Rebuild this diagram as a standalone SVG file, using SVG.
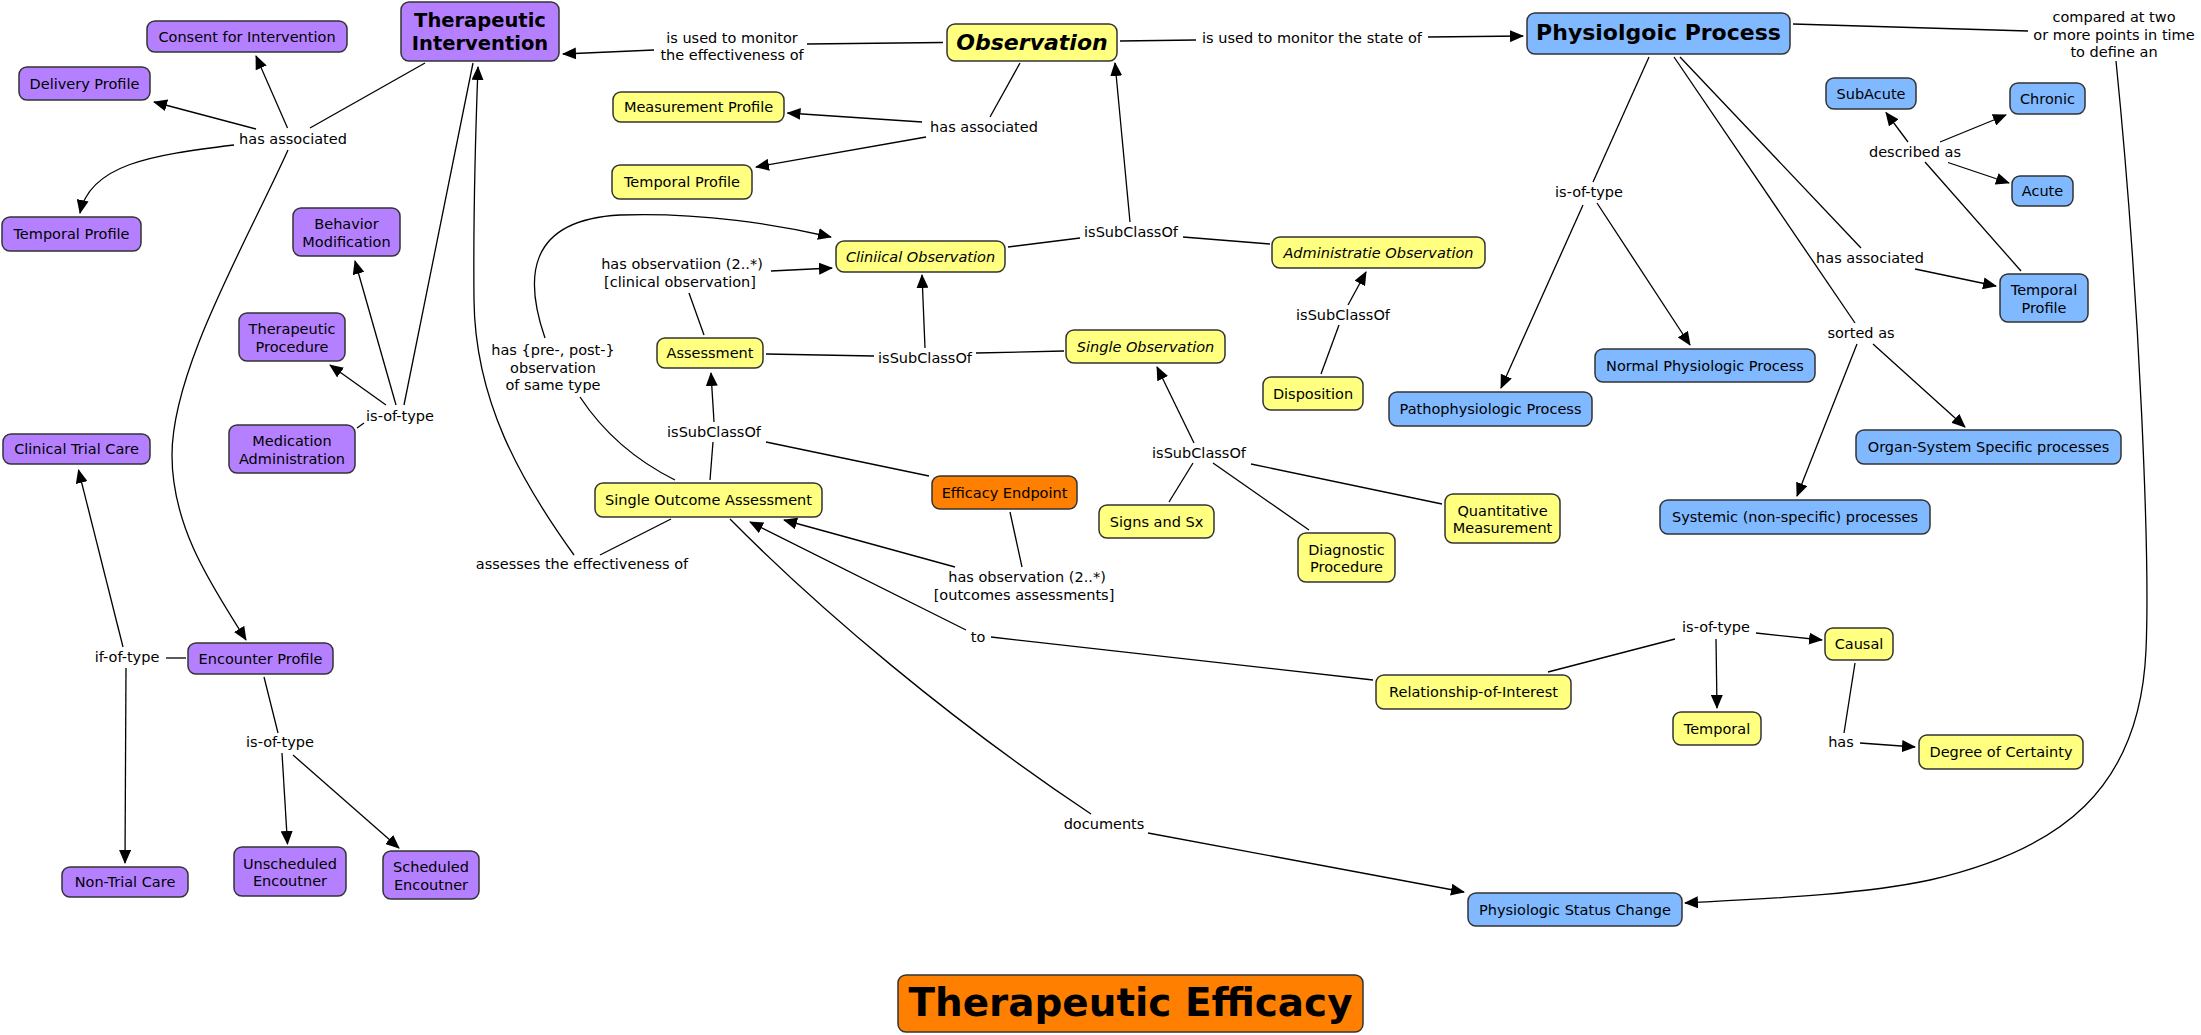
<svg xmlns="http://www.w3.org/2000/svg" width="2201" height="1035" viewBox="0 0 2201 1035">
<style>
text{font-family:"DejaVu Sans",Verdana,sans-serif;font-size:14.5px;text-anchor:middle;fill:#000}
.n rect{stroke:#333;stroke-width:1.5}
.p rect{fill:#B580FF}.y rect{fill:#FFFF80}.b rect{fill:#80B9FF}.o rect{fill:#FF8000}
.it{font-style:italic}
.bt{font-weight:bold;font-size:19.5px}
.bi{font-weight:bold;font-style:italic;font-size:22px}
.bb{font-weight:bold;font-size:22px}
#connectors path{stroke:#000;stroke-width:1.3;fill:none}
#connectors path.a{marker-end:url(#ah)}
</style>
<defs>
<marker id="ah" viewBox="0 0 14 12" refX="13" refY="6" markerWidth="14" markerHeight="12" markerUnits="userSpaceOnUse" orient="auto"><path d="M0,0 L14,6 L0,12 z" fill="#000"/></marker>
</defs>
<rect width="2201" height="1035" fill="#fff"/>
<g id="connectors">
<path d="M425,63 L310,128"/>
<path class="a" d="M287.5,128 L256,56"/>
<path class="a" d="M256,129 L154,102"/>
<path class="a" d="M234,145 C150,155 90,165 80,213"/>
<path class="a" d="M288,150 C245,245 172,370 172,455 C172,530 215,590 246,640"/>
<path d="M404,405 L473,63"/>
<path class="a" d="M396,405 L355,261"/>
<path class="a" d="M386,405 L330,365"/>
<path d="M364,423 L357,428"/>
<path d="M943,42.5 L807,44"/>
<path class="a" d="M654,50 L563,54"/>
<path d="M1020,63 L990,117"/>
<path class="a" d="M922,122 L787.5,113"/>
<path class="a" d="M926,137 L756,167"/>
<path d="M1120,41 L1196,40"/>
<path class="a" d="M1428,37 L1523,36"/>
<path class="a" d="M1130,222 L1115,63"/>
<path d="M1008,247 L1080,238"/>
<path d="M1270,244 L1183,237"/>
<path d="M704,335 L689,293"/>
<path class="a" d="M771,271 L832,268"/>
<path d="M675,480 Q615,450 580,397"/>
<path class="a" d="M545,338 C525,280 525,220 620,215 C700,212 780,225 831,237"/>
<path d="M766,354 L874,356"/>
<path d="M1064,351 L976,353"/>
<path class="a" d="M925,348 L922,275"/>
<path d="M710,480 L713,442"/>
<path class="a" d="M714,422 L711,373"/>
<path d="M929,476 L766,442"/>
<path d="M1321,374 L1339,325"/>
<path class="a" d="M1348,305 L1366,272"/>
<path class="a" d="M1194,443 L1157,367"/>
<path d="M1169,502 L1193,463"/>
<path d="M1309,530 L1213,463"/>
<path d="M1442,504 L1251,464"/>
<path d="M671,519 L600,555"/>
<path class="a" d="M574,555 C520,480 475,400 474,300 C473,200 476,120 478,67"/>
<path class="a" d="M955,567 L784,520"/>
<path d="M1010,512 L1022,567"/>
<path class="a" d="M966,630 L750,522"/>
<path d="M1373,680 L991,637"/>
<path d="M730,519 C820,610 950,720 1091,814"/>
<path class="a" d="M1148,833 L1464,892"/>
<path d="M1548,672 L1675,639"/>
<path class="a" d="M1756,633 L1822,640"/>
<path class="a" d="M1716,639 L1717,708"/>
<path d="M1855,663 L1844,733"/>
<path class="a" d="M1860,743 L1915,747"/>
<path d="M1649,57 L1593,182"/>
<path class="a" d="M1583,205 L1501,388"/>
<path class="a" d="M1597,203 L1690,345"/>
<path d="M1680,57 L1861,248"/>
<path class="a" d="M1915,269 L1996,286"/>
<path d="M1674,57 L1855,323"/>
<path class="a" d="M1857,344 L1797,496"/>
<path class="a" d="M1873,344 L1965,427"/>
<path d="M2021,271 L1925,162"/>
<path class="a" d="M1908,142 L1886,112.5"/>
<path class="a" d="M1940,142 L2006,115"/>
<path class="a" d="M1948,162.5 L2009,183"/>
<path d="M1793,24 L2028,31"/>
<path class="a" d="M2116,61 C2140,300 2150,560 2146,650 C2140,790 2060,850 1930,880 C1860,895 1760,899 1685,903"/>
<path d="M186,658 L166,658"/>
<path class="a" d="M123,647 L78.5,470"/>
<path class="a" d="M126,668 L125,863"/>
<path d="M264,677 L278,733"/>
<path class="a" d="M282,753 L287.5,844"/>
<path class="a" d="M293,755 L399,848"/>
<text x="293" y="144">has associated</text>
<text x="400" y="421">is-of-type</text>
<text x="732" y="43">is used to monitor</text>
<text x="732" y="60">the effectiveness of</text>
<text x="984" y="132">has associated</text>
<text x="1312" y="43">is used to monitor the state of</text>
<text x="1131" y="237">isSubClassOf</text>
<text x="682" y="269">has observatiion (2..*)</text>
<text x="680" y="287">[clinical observation]</text>
<text x="553" y="355">has {pre-, post-}</text>
<text x="553" y="372.5">observation</text>
<text x="553" y="390">of same type</text>
<text x="925" y="363">isSubClassOf</text>
<text x="714" y="437">isSubClassOf</text>
<text x="1343" y="320">isSubClassOf</text>
<text x="1199" y="458">isSubClassOf</text>
<text x="582" y="569">assesses the effectiveness of</text>
<text x="1027" y="582">has observation (2..*)</text>
<text x="1024" y="600">[outcomes assessments]</text>
<text x="978" y="642">to</text>
<text x="1104" y="829">documents</text>
<text x="1716" y="632">is-of-type</text>
<text x="1841" y="747">has</text>
<text x="1589" y="197">is-of-type</text>
<text x="1915" y="157">described as</text>
<text x="1870" y="263">has associated</text>
<text x="1861" y="338">sorted as</text>
<text x="2114" y="22">compared at two</text>
<text x="2114" y="40">or more points in time</text>
<text x="2114" y="57">to define an</text>
<text x="127" y="662">if-of-type</text>
<text x="280" y="747">is-of-type</text>
</g>
<g id="n-therapeutic-intervention" class="n p"><rect x="401" y="2" width="158" height="59" rx="8"/><text class="bt" x="480" y="27">Therapeutic</text><text class="bt" x="480" y="50">Intervention</text></g>
<g id="n-consent" class="n p"><rect x="147" y="21" width="200" height="31" rx="8"/><text x="247" y="41.5">Consent for Intervention</text></g>
<g id="n-delivery-profile" class="n p"><rect x="19" y="67" width="131" height="33" rx="8"/><text x="84.5" y="88.5">Delivery Profile</text></g>
<g id="n-temporal-profile-ti" class="n p"><rect x="2" y="217" width="139" height="34" rx="8"/><text x="71.5" y="239">Temporal Profile</text></g>
<g id="n-behavior-modification" class="n p"><rect x="293" y="208" width="107" height="48" rx="8"/><text x="346.5" y="229">Behavior</text><text x="346.5" y="246.5">Modification</text></g>
<g id="n-therapeutic-procedure" class="n p"><rect x="239" y="313" width="106" height="48" rx="8"/><text x="292" y="334">Therapeutic</text><text x="292" y="351.5">Procedure</text></g>
<g id="n-medication-administration" class="n p"><rect x="229" y="425" width="126" height="48" rx="8"/><text x="292" y="446">Medication</text><text x="292" y="463.5">Administration</text></g>
<g id="n-clinical-trial-care" class="n p"><rect x="3" y="434" width="147" height="30" rx="8"/><text x="76.5" y="454">Clinical Trial Care</text></g>
<g id="n-encounter-profile" class="n p"><rect x="188" y="643" width="145" height="31" rx="8"/><text x="260.5" y="663.5">Encounter Profile</text></g>
<g id="n-non-trial-care" class="n p"><rect x="62" y="867" width="126" height="30" rx="8"/><text x="125" y="887">Non-Trial Care</text></g>
<g id="n-unscheduled" class="n p"><rect x="234" y="847" width="112" height="49" rx="8"/><text x="290" y="868.5">Unscheduled</text><text x="290" y="886">Encoutner</text></g>
<g id="n-scheduled" class="n p"><rect x="383" y="851" width="96" height="48" rx="8"/><text x="431" y="872">Scheduled</text><text x="431" y="889.5">Encoutner</text></g>
<g id="n-observation" class="n y"><rect x="947" y="24" width="170" height="37" rx="8"/><text class="bi" x="1032" y="50">Observation</text></g>
<g id="n-measurement-profile" class="n y"><rect x="613" y="92" width="171" height="30" rx="8"/><text x="698.5" y="112">Measurement Profile</text></g>
<g id="n-temporal-profile-obs" class="n y"><rect x="612" y="165" width="140" height="34" rx="8"/><text x="682" y="187">Temporal Profile</text></g>
<g id="n-clinical-observation" class="n y"><rect x="836" y="241" width="169" height="31" rx="8"/><text class="it" x="920.5" y="261.5">Cliniical Observation</text></g>
<g id="n-administrative-observation" class="n y"><rect x="1272" y="237" width="213" height="31" rx="8"/><text class="it" x="1378.5" y="257.5">Administratie Observation</text></g>
<g id="n-assessment" class="n y"><rect x="657" y="338" width="106" height="30" rx="8"/><text x="710" y="358">Assessment</text></g>
<g id="n-single-observation" class="n y"><rect x="1066" y="330" width="159" height="33" rx="8"/><text class="it" x="1145.5" y="351.5">Single Observation</text></g>
<g id="n-disposition" class="n y"><rect x="1263" y="377" width="100" height="33" rx="8"/><text x="1313" y="398.5">Disposition</text></g>
<g id="n-single-outcome-assessment" class="n y"><rect x="595" y="483" width="227" height="34" rx="8"/><text x="708.5" y="505">Single Outcome Assessment</text></g>
<g id="n-signs-sx" class="n y"><rect x="1099" y="505" width="115" height="33" rx="8"/><text x="1156.5" y="526.5">Signs and Sx</text></g>
<g id="n-diagnostic-procedure" class="n y"><rect x="1298" y="533" width="97" height="49" rx="8"/><text x="1346.5" y="554.5">Diagnostic</text><text x="1346.5" y="572">Procedure</text></g>
<g id="n-quantitative-measurement" class="n y"><rect x="1445" y="494" width="115" height="49" rx="8"/><text x="1502.5" y="515.5">Quantitative</text><text x="1502.5" y="533">Measurement</text></g>
<g id="n-relationship-of-interest" class="n y"><rect x="1376" y="675" width="195" height="34" rx="8"/><text x="1473.5" y="697">Relationship-of-Interest</text></g>
<g id="n-causal" class="n y"><rect x="1825" y="628" width="68" height="32" rx="8"/><text x="1859" y="649">Causal</text></g>
<g id="n-temporal" class="n y"><rect x="1673" y="712" width="88" height="33" rx="8"/><text x="1717" y="733.5">Temporal</text></g>
<g id="n-degree-of-certainty" class="n y"><rect x="1919" y="735" width="164" height="34" rx="8"/><text x="2001" y="757">Degree of Certainty</text></g>
<g id="n-efficacy-endpoint" class="n o"><rect x="932" y="476" width="145" height="33" rx="8"/><text x="1004.5" y="497.5">Efficacy Endpoint</text></g>
<g id="n-physiologic-process" class="n b"><rect x="1527" y="13" width="263" height="41" rx="8"/><text class="bb" x="1658.5" y="40">Physiolgoic Process</text></g>
<g id="n-subacute" class="n b"><rect x="1826" y="78" width="90" height="31" rx="8"/><text x="1871" y="98.5">SubAcute</text></g>
<g id="n-chronic" class="n b"><rect x="2010" y="83" width="75" height="31" rx="8"/><text x="2047.5" y="103.5">Chronic</text></g>
<g id="n-acute" class="n b"><rect x="2012" y="176" width="61" height="30" rx="8"/><text x="2042.5" y="196">Acute</text></g>
<g id="n-temporal-profile-pp" class="n b"><rect x="2000" y="274" width="88" height="48" rx="8"/><text x="2044" y="295">Temporal</text><text x="2044" y="312.5">Profile</text></g>
<g id="n-pathophysiologic" class="n b"><rect x="1389" y="392" width="203" height="34" rx="8"/><text x="1490.5" y="414">Pathophysiologic Process</text></g>
<g id="n-normal-physiologic" class="n b"><rect x="1595" y="349" width="220" height="33" rx="8"/><text x="1705" y="370.5">Normal Physiologic Process</text></g>
<g id="n-organ-system" class="n b"><rect x="1856" y="430" width="265" height="34" rx="8"/><text x="1988.5" y="452">Organ-System Specific processes</text></g>
<g id="n-systemic" class="n b"><rect x="1660" y="500" width="270" height="34" rx="8"/><text x="1795" y="522">Systemic (non-specific) processes</text></g>
<g id="n-physiologic-status-change" class="n b"><rect x="1468" y="893" width="214" height="33" rx="8"/><text x="1575" y="914.5">Physiologic Status Change</text></g>
<g id="n-title" class="n o"><rect x="898" y="975" width="465" height="57" rx="8"/><text x="1130.5" y="1016" style="font-weight:bold;font-size:39px" textLength="444" lengthAdjust="spacingAndGlyphs">Therapeutic Efficacy</text></g>
</svg>
